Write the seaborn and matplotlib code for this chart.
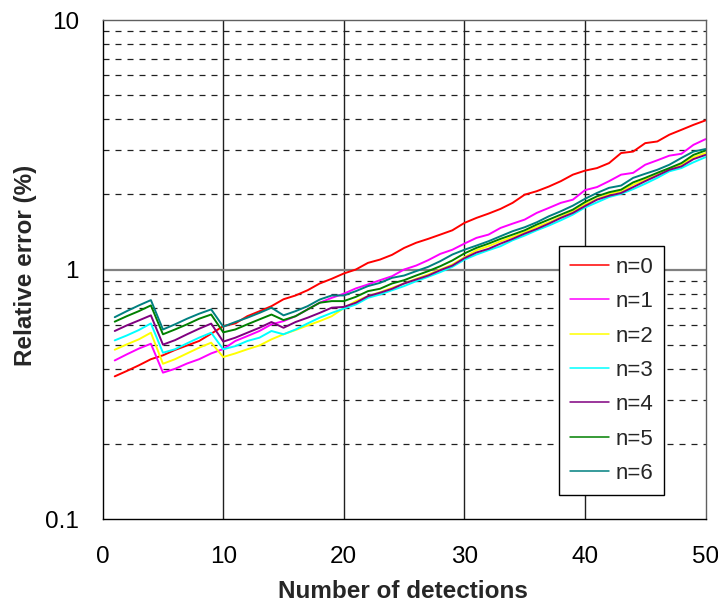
import matplotlib
matplotlib.use("Agg")
import matplotlib.pyplot as plt
import seaborn as sns
import pandas as pd
import numpy as np

detections = list(range(1, 51))

n0 = [0.373, 0.392, 0.413, 0.437, 0.453, 0.476, 0.496, 0.517, 0.553, 0.593,
      0.608, 0.650, 0.680, 0.713, 0.760, 0.787, 0.826, 0.879, 0.918, 0.964,
      1.000, 1.063, 1.096, 1.145, 1.220, 1.280, 1.327, 1.380, 1.436, 1.537,
      1.610, 1.675, 1.750, 1.850, 1.995, 2.060, 2.150, 2.260, 2.400, 2.490,
      2.550, 2.670, 2.930, 2.970, 3.210, 3.260, 3.470, 3.630, 3.800, 3.960]
n1 = [0.432, 0.457, 0.482, 0.504, 0.386, 0.400, 0.420, 0.437, 0.461, 0.480,
      0.517, 0.541, 0.567, 0.603, 0.621, 0.650, 0.692, 0.736, 0.770, 0.800,
      0.840, 0.871, 0.906, 0.940, 1.000, 1.037, 1.090, 1.155, 1.200, 1.270,
      1.339, 1.380, 1.468, 1.527, 1.585, 1.686, 1.765, 1.850, 1.905, 2.080,
      2.140, 2.260, 2.400, 2.440, 2.630, 2.740, 2.860, 2.910, 3.160, 3.330]
n2 = [0.477, 0.501, 0.525, 0.558, 0.419, 0.437, 0.461, 0.486, 0.509, 0.446,
      0.461, 0.479, 0.496, 0.525, 0.550, 0.572, 0.597, 0.621, 0.650, 0.700,
      0.747, 0.782, 0.811, 0.845, 0.879, 0.918, 0.955, 1.000, 1.047, 1.120,
      1.195, 1.240, 1.298, 1.351, 1.410, 1.482, 1.546, 1.625, 1.712, 1.830,
      1.917, 2.010, 2.060, 2.190, 2.290, 2.400, 2.530, 2.630, 2.820, 2.930]
n3 = [0.520, 0.544, 0.572, 0.608, 0.464, 0.479, 0.506, 0.533, 0.558, 0.479,
      0.493, 0.517, 0.533, 0.567, 0.550, 0.575, 0.608, 0.641, 0.670, 0.697,
      0.724, 0.770, 0.794, 0.826, 0.858, 0.898, 0.935, 0.976, 1.025, 1.095,
      1.148, 1.195, 1.240, 1.310, 1.368, 1.436, 1.500, 1.575, 1.660, 1.772,
      1.858, 1.952, 2.010, 2.100, 2.207, 2.330, 2.475, 2.550, 2.690, 2.820]
n4 = [0.567, 0.597, 0.625, 0.655, 0.500, 0.521, 0.550, 0.579, 0.607, 0.514,
      0.533, 0.558, 0.584, 0.616, 0.584, 0.616, 0.641, 0.670, 0.703, 0.708,
      0.736, 0.782, 0.807, 0.837, 0.879, 0.912, 0.946, 0.994, 1.037, 1.110,
      1.170, 1.210, 1.270, 1.327, 1.393, 1.454, 1.527, 1.610, 1.686, 1.796,
      1.905, 1.976, 2.027, 2.140, 2.260, 2.380, 2.510, 2.590, 2.770, 2.880]
n5 = [0.618, 0.650, 0.681, 0.718, 0.550, 0.575, 0.603, 0.635, 0.660, 0.560,
      0.575, 0.603, 0.631, 0.660, 0.627, 0.650, 0.692, 0.736, 0.747, 0.747,
      0.777, 0.819, 0.837, 0.879, 0.906, 0.946, 0.985, 1.031, 1.087, 1.160,
      1.221, 1.270, 1.327, 1.380, 1.436, 1.514, 1.585, 1.660, 1.738, 1.863,
      1.965, 2.040, 2.090, 2.235, 2.330, 2.440, 2.550, 2.670, 2.880, 3.000]
n6 = [0.644, 0.681, 0.718, 0.754, 0.575, 0.603, 0.635, 0.665, 0.692, 0.590,
      0.616, 0.641, 0.670, 0.703, 0.655, 0.681, 0.713, 0.758, 0.787, 0.787,
      0.819, 0.858, 0.884, 0.926, 0.946, 0.985, 1.025, 1.080, 1.148, 1.200,
      1.247, 1.298, 1.360, 1.424, 1.477, 1.546, 1.634, 1.712, 1.803, 1.920,
      2.027, 2.125, 2.170, 2.330, 2.420, 2.510, 2.630, 2.800, 2.970, 3.040]

series_names = ["n=0", "n=1", "n=2", "n=3", "n=4", "n=5", "n=6"]
series_values = [n0, n1, n2, n3, n4, n5, n6]
colors = ["#FF0000", "#FF00FF", "#FFFF00", "#00FFFF", "#800080", "#008000", "#008080"]

x_ticks = [0, 10, 20, 30, 40, 50]
y_ticks = [0.1, 1, 10]
y_tick_labels = ["0.1", "1", "10"]

df = pd.DataFrame({
    "Number of detections": np.tile(detections, len(series_names)),
    "Relative error (%)": np.concatenate(series_values),
    "series": np.repeat(series_names, len(detections)),
})

sns.set_style("white")
plt.rcParams["font.family"] = ["Liberation Sans", "DejaVu Sans"]

fig = plt.figure(figsize=(7.18, 6.03), dpi=100)
ax = fig.add_axes([0.1430, 0.1393, 0.8396, 0.8275])

sns.lineplot(data=df, x="Number of detections", y="Relative error (%)",
             hue="series", palette=colors, hue_order=series_names,
             linewidth=1.4, ax=ax, legend=True)

ax.set_yscale("log")
ax.set_xlim(0, 50)
ax.set_ylim(0.1, 10)

ax.set_xticks(x_ticks)
ax.set_xticklabels([str(t) for t in x_ticks])
ax.set_yticks(y_ticks)
ax.set_yticklabels(y_tick_labels)
minor = [m * d for d in (0.1, 1) for m in range(2, 10)]
ax.set_yticks(minor, minor=True)
ax.yaxis.set_minor_formatter(matplotlib.ticker.NullFormatter())

ax.tick_params(axis="both", which="major", labelsize=17.5, colors="black",
               direction="out", width=1)
ax.tick_params(axis="y", which="major", length=5.5, pad=11.5)
ax.tick_params(axis="x", which="major", length=5.8, pad=13.5)
ax.tick_params(axis="y", which="minor", length=0)

ax.grid(False)
for t in x_ticks[1:-1]:
    ax.axvline(t, color="#202020", linewidth=1.0, zorder=0.5)
ax.axhline(1, color="#808080", linewidth=1.6, zorder=0.5)
for m in minor:
    ax.axhline(m, color="#202020", linewidth=0.9, linestyle=(0, (4.8, 4.8)), zorder=0.5)

for s in ax.spines.values():
    s.set_color("#606060")
    s.set_linewidth(1.0)
ax.spines["left"].set_color("black")
ax.spines["bottom"].set_color("black")

ax.set_xlabel("Number of detections", fontsize=17.5, fontweight="bold")
ax.set_ylabel("Relative error (%)", fontsize=17.5, fontweight="bold")
ax.xaxis.set_label_coords(0.498, -0.1225)
ax.yaxis.set_label_coords(-0.1095, 0.509)

leg = ax.legend(loc="lower right", bbox_to_anchor=(0.9317, 0.0481), borderaxespad=0,
                fontsize=16, frameon=True, fancybox=False, shadow=False,
                handlelength=1.75, handletextpad=0.3, labelspacing=0.6,
                borderpad=0.5, title=None)
leg.get_frame().set_edgecolor("black")
leg.get_frame().set_linewidth(1.0)
leg.get_frame().set_alpha(1.0)
for line in leg.get_lines():
    line.set_linewidth(1.1)

fig.savefig("out.png", dpi=100)
